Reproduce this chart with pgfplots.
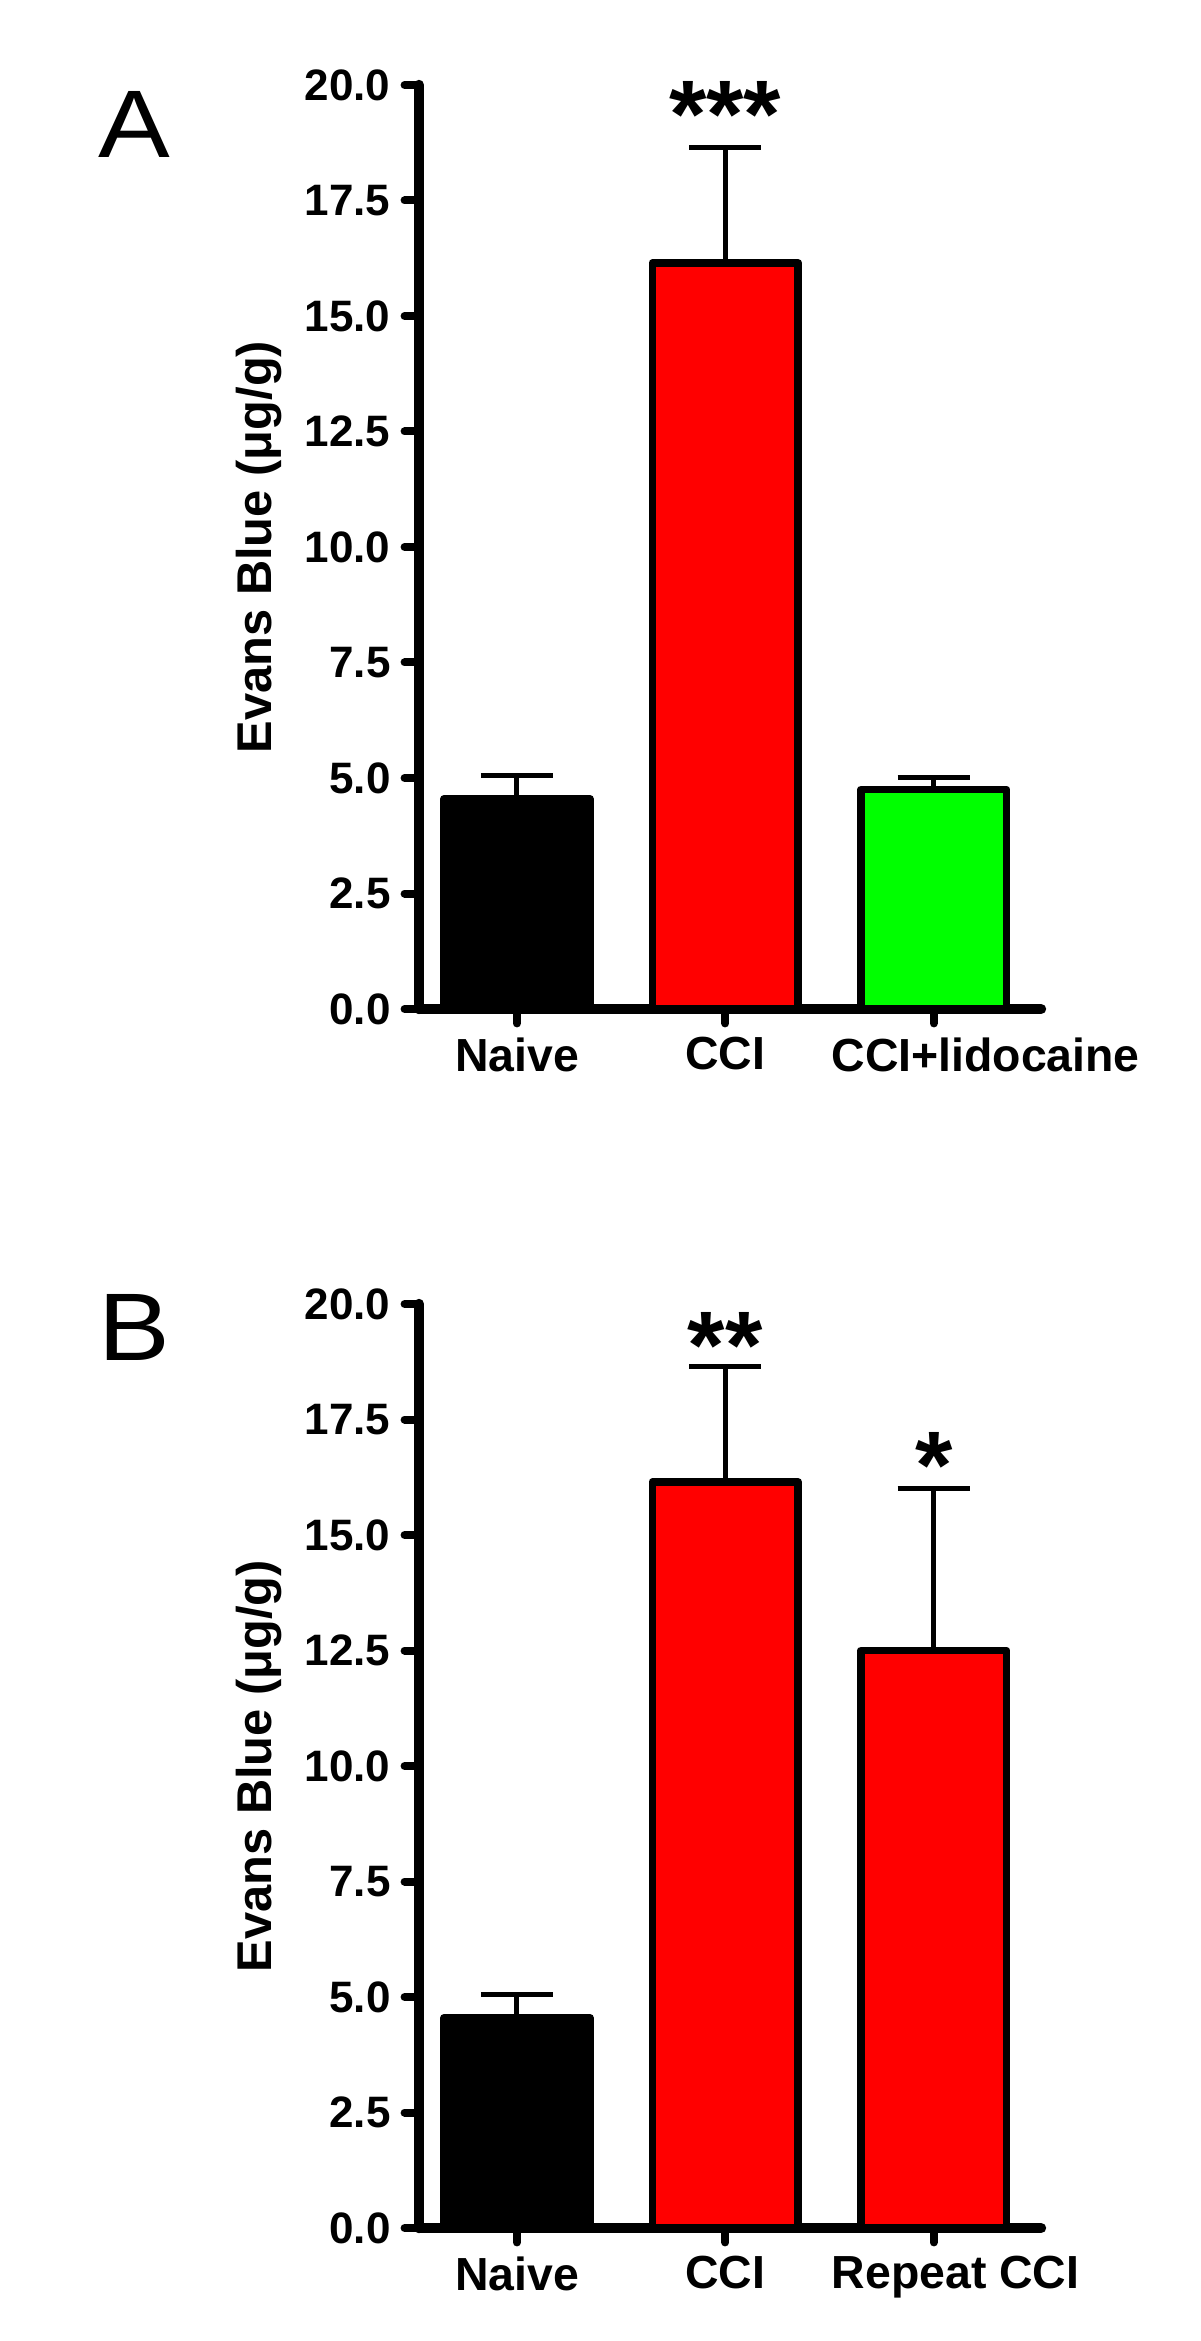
\documentclass[border=0pt]{standalone}
\usepackage{fontspec}
\setmainfont{Liberation Sans}
\usepackage{pgfplots}
\pgfplotsset{compat=1.18}
\definecolor{barred}{RGB}{255,0,0}
\definecolor{bargreen}{RGB}{0,255,0}
\pgfplotsset{
  evans/.style={
    scale only axis,
    width=155.5pt, height=231pt,
    anchor=south west,
    xmin=-0.47, xmax=2.515, ymin=0, ymax=20,
    axis lines=left,
    axis line style={-, line width=2.6pt, line cap=round, black},
    ytick={0,2.5,5,7.5,10,12.5,15,17.5,20},
    xtick={0,1,2},
    tick align=outside, major tick length=3.6pt,
    tick style={line width=2pt, black, line cap=round},
    yticklabel style={font=\bfseries\fontsize{11}{13}\selectfont, /pgf/number format/.cd, fixed, fixed zerofill, precision=1},
    xticklabel style={font=\bfseries\fontsize{11.6}{13}\selectfont},
    /pgf/number format/assume math mode=true,
    ylabel={Evans Blue (μg/g)},
    ylabel style={font=\bfseries\fontsize{12.2}{14}\selectfont, yshift=-1pt},
    clip=false,
  },
  evbar/.style={ybar, bar shift=0pt, bar width=0.7, draw=black, line width=1.9pt, line join=round,
    /pgfplots/error bars/y dir=plus, /pgfplots/error bars/y explicit,
    /pgfplots/error bars/error bar style={line width=1.25pt, black},
    /pgfplots/error bars/error mark options={rotate=90, mark size=9pt, line width=1.25pt, black}},
}
\begin{document}
\begin{tikzpicture}
\useasboundingbox[fill=white] (0,0) rectangle (300pt,-585.25pt);
% Panel A
\node[anchor=base west, font=\fontsize{24}{24}\selectfont, inner sep=0pt, xscale=1.12] at (24.5pt,-39.5pt) {A};
\begin{axis}[evans, at={(104.75pt,-252.25pt)}, xticklabels={Naive,CCI,\hspace*{26pt}CCI+lidocaine}]
\addplot[evbar, fill=black] coordinates {(0,4.55) +- (0,0.5)};
\addplot[evbar, fill=barred] coordinates {(1,16.15) +- (0,2.5)};
\addplot[evbar, fill=bargreen] coordinates {(2,4.75) +- (0,0.25)};
\node[anchor=base, font=\bfseries\fontsize{24}{24}\selectfont, inner sep=0pt] at (axis cs:1,18.65) {***};
\end{axis}
% Panel B
\node[anchor=base west, font=\fontsize{24}{24}\selectfont, inner sep=0pt, xscale=1.12] at (24.5pt,-340pt) {B};
\begin{axis}[evans, at={(104.75pt,-557pt)}, xticklabels={Naive,CCI,\hspace*{11pt}Repeat CCI}]
\addplot[evbar, fill=black] coordinates {(0,4.55) +- (0,0.5)};
\addplot[evbar, fill=barred] coordinates {(1,16.15) +- (0,2.5)};
\addplot[evbar, fill=barred] coordinates {(2,12.5) +- (0,3.5)};
\node[anchor=base, font=\bfseries\fontsize{24}{24}\selectfont, inner sep=0pt] at (axis cs:1,18.38) {**};
\node[anchor=base, font=\bfseries\fontsize{24}{24}\selectfont, inner sep=0pt] at (axis cs:2,15.8) {*};
\end{axis}
\end{tikzpicture}
\end{document}
